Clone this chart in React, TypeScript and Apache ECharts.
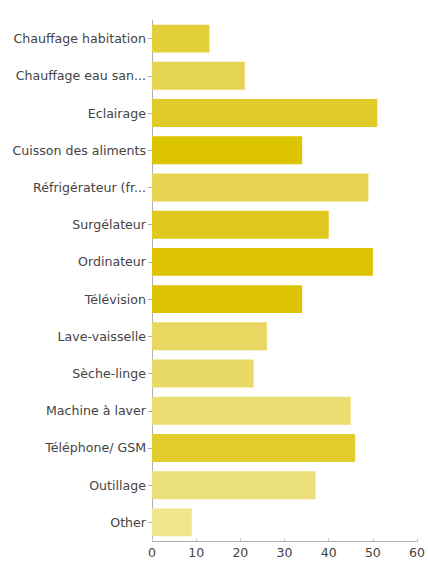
import React, { useEffect, useRef } from "react";
import * as echarts from "echarts";

const categories = [
  "Chauffage habitation",
  "Chauffage eau san...",
  "Eclairage",
  "Cuisson des aliments",
  "Réfrigérateur (fr...",
  "Surgélateur",
  "Ordinateur",
  "Télévision",
  "Lave-vaisselle",
  "Sèche-linge",
  "Machine à laver",
  "Téléphone/ GSM",
  "Outillage",
  "Other",
];

const values = [13, 21, 51, 34, 49, 40, 50, 34, 26, 23, 45, 46, 37, 9];

const barColors = [
  "#e3cf3a",
  "#e6d552",
  "#e1cb2a",
  "#dcc400",
  "#e6d452",
  "#e0c81e",
  "#dcc200",
  "#dcc306",
  "#e8d862",
  "#e9da68",
  "#ebdd72",
  "#e3cd2e",
  "#ece07a",
  "#f0e68e",
];

const xTicks = [0, 10, 20, 30, 40, 50, 60];

export default function App() {
  const ref = useRef<HTMLDivElement>(null);
  useEffect(() => {
    document.body.style.margin = "0";
    if (!ref.current) return;
    const chart = echarts.init(ref.current, null, { renderer: "svg" });
    chart.setOption({
      animation: false,
      backgroundColor: "#ffffff",
      textStyle: { fontFamily: "DejaVu Sans" },
      grid: { left: 152, right: 8, top: 20, bottom: 21, containLabel: false },
      xAxis: {
        type: "value",
        min: xTicks[0],
        max: xTicks[xTicks.length - 1],
        interval: 10,
        axisLine: { show: true, lineStyle: { color: "#b0b0b0" } },
        axisTick: { show: true, inside: true, length: 3, lineStyle: { color: "#c8c8c8" } },
        splitLine: { show: false },
        axisLabel: { color: "#444", fontSize: 12.5, margin: 5, fontFamily: "DejaVu Sans" },
      },
      yAxis: {
        type: "category",
        data: categories,
        inverse: true,
        axisLine: { show: true, lineStyle: { color: "#b0b0b0" } },
        axisTick: { show: true, alignWithLabel: true, length: 4, lineStyle: { color: "#b0b0b0" } },
        axisLabel: { color: "#444", fontSize: 12.6, margin: 6, fontFamily: "DejaVu Sans" },
      },
      series: [
        {
          type: "bar",
          data: values.map((v, i) => ({ value: v, itemStyle: { color: barColors[i] } })),
          barCategoryGap: "25%",
        },
      ],
    });
    return () => chart.dispose();
  }, []);
  return <div ref={ref} style={{ width: 428, height: 562 }} />;
}
